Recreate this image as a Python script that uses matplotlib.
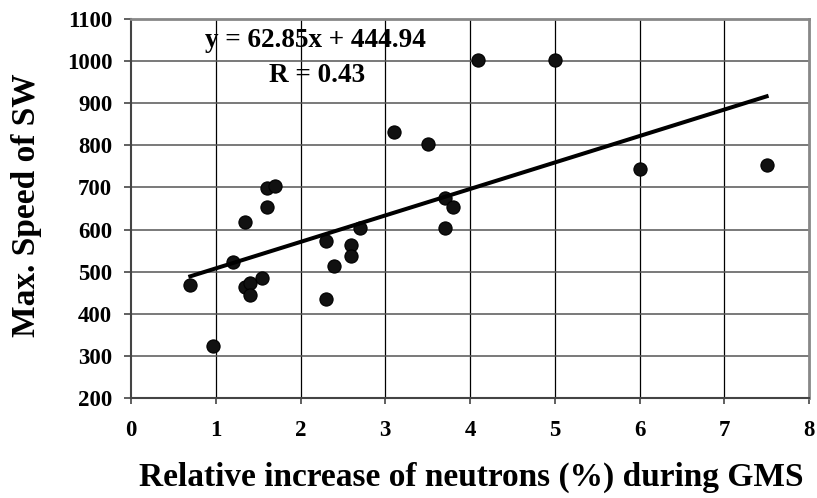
import matplotlib.pyplot as plt
import numpy as np

# data
neutrons = [0.7, 0.97, 1.2, 1.35, 1.35, 1.4, 1.4, 1.55, 1.6, 1.6, 1.7,
            2.3, 2.3, 2.4, 2.6, 2.6, 2.7, 3.1, 3.5, 3.7, 3.7, 3.8,
            4.1, 5.0, 6.0, 7.5]
sw_speed = [468, 323, 523, 619, 464, 474, 444, 484, 698, 653, 703,
            573, 434, 513, 563, 538, 603, 832, 803, 674, 603, 653,
            1002, 1002, 743, 753]
slope = 62.85
intercept = 444.94
r_value = 0.43
x_ticks = list(range(0, 9))
y_ticks = list(range(200, 1101, 100))

plt.rcParams['font.family'] = ['Liberation Serif', 'DejaVu Serif']
plt.rcParams['font.weight'] = 'bold'

fig = plt.figure(figsize=(8.17, 4.98), dpi=100)
ax = fig.add_axes([131/817, 1-398/498, (809-131)/817, (398-19)/498])

# grid: vertical black, horizontal dark gray
for xv in x_ticks[1:-1]:
	ax.axvline(xv, color='black', lw=0.9, zorder=1)
for yv in y_ticks[1:-1]:
	ax.axhline(yv, color='#555555', lw=1.1, zorder=1)

ax.scatter(neutrons, sw_speed, s=90, color='#111111', edgecolor='black',
	linewidth=0.8, zorder=3)

# trend line
xs = np.array([min(neutrons), max(neutrons)])
ax.plot(xs, slope*xs + intercept, color='black', lw=2.9, zorder=4)

ax.text(2.18, 1050, 'y = %.2fx + %.2f' % (slope, intercept), ha='center', va='center',
	fontsize=19.5, fontweight='bold', zorder=5)
ax.text(2.19, 967, 'R = %.2f' % r_value, ha='center', va='center',
	fontsize=19.5, fontweight='bold', zorder=5)

ax.set_xlim(0, 8)
ax.set_ylim(200, 1100)
ax.set_xticks(x_ticks)
ax.set_yticks(y_ticks)
ax.tick_params(axis='both', direction='out', length=5, width=1.2, color='#444444',
	labelsize=16.5)
ax.tick_params(axis='x', length=4.5, pad=11)
ax.tick_params(axis='y', pad=8.5)
for lab in ax.get_xticklabels() + ax.get_yticklabels():
	lab.set_fontweight('bold')

for side in ['top', 'right']:
	ax.spines[side].set_color('#888888')
	ax.spines[side].set_linewidth(2)
for side in ['left', 'bottom']:
	ax.spines[side].set_color('#444444')
	ax.spines[side].set_linewidth(1.5)

fig.text(471/817, 1-477/498, 'Relative increase of neutrons (%) during GMS',
	ha='center', va='center', fontsize=24, fontweight='bold')
fig.text(27/817, 1-205/498, 'Max. Speed of SW', rotation=90,
	ha='center', va='center', fontsize=24, fontweight='bold')

plt.savefig('out.png', dpi=100)
